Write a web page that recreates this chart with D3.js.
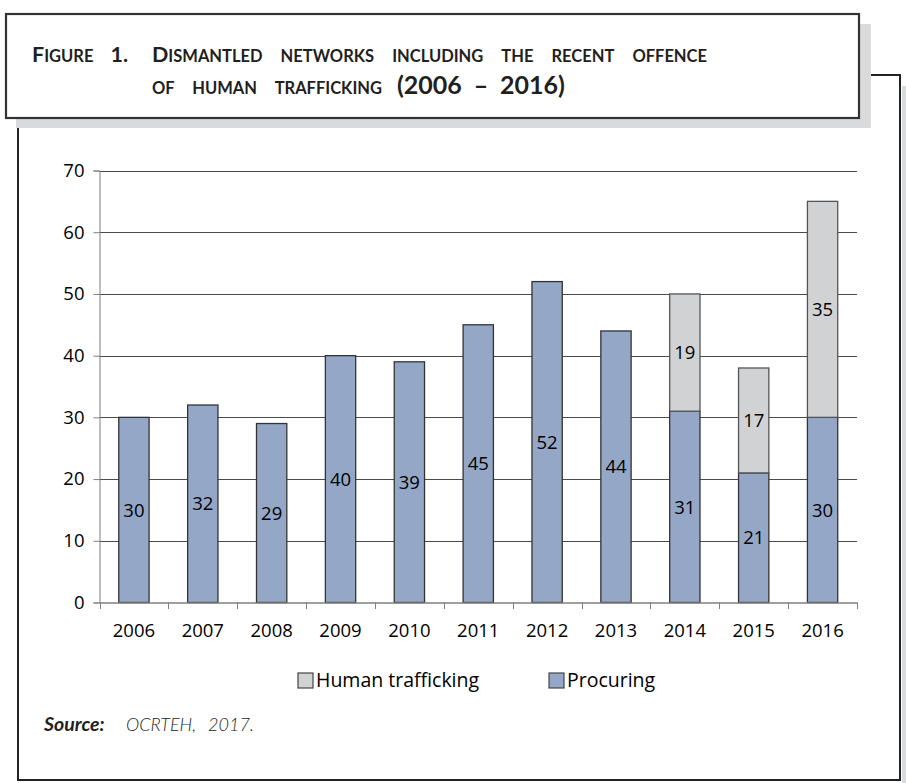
<!DOCTYPE html>
<html><head><meta charset="utf-8">
<script src="https://cdn.jsdelivr.net/npm/d3@7"></script>
<style>body{margin:0;background:#fff}svg{display:block}</style>
</head><body>
<script>
const years = ["2006","2007","2008","2009","2010","2011","2012","2013","2014","2015","2016"];
const procuring = [30,32,29,40,39,45,52,44,31,21,30];
const humanTrafficking = [0,0,0,0,0,0,0,0,19,17,35];
const yTicks = [0,10,20,30,40,50,60,70];
const seriesNames = ["Human trafficking","Procuring"];

const W=906,H=783;
const svg=d3.select("body").append("svg").attr("width",W).attr("height",H);

// main frame shadow & frame
svg.append("rect").attr("x",902).attr("y",86).attr("width",10).attr("height",H).attr("fill","#d9dadc");
svg.append("rect").attr("x",18).attr("y",75).attr("width",882).attr("height",705)
  .attr("fill","#fff").attr("stroke","#222").attr("stroke-width",2);

// title box shadow and box
svg.append("rect").attr("x",16).attr("y",24).attr("width",855).attr("height",104).attr("fill","#d9dadc");
svg.append("rect").attr("x",6).attr("y",14).attr("width",853).attr("height",104)
  .attr("fill","#fff").attr("stroke","#333").attr("stroke-width",2.2);

const tf="Lato, 'DejaVu Sans', sans-serif";
function fitWords(t,target){
  const n=(t.text().match(/ /g)||[]).length;
  const w=t.node().getComputedTextLength();
  if(n>0) t.attr("word-spacing",Math.max(1,(target-w)/n));
}
const bigS=21.5, smallS=16.5;
function smallCaps(xp,yp,str,target){
  const t=svg.append("text").attr("x",xp).attr("y",yp).attr("font-family",tf).attr("font-weight",700)
    .attr("fill","#231f20").attr("font-size",bigS);
  let runs=[];
  for(const ch of str){
    const small=(ch!==ch.toUpperCase());
    const sz=small?smallS:bigS;
    if(runs.length&&runs[runs.length-1].sz===sz) runs[runs.length-1].s+=ch.toUpperCase();
    else runs.push({sz:sz,s:ch.toUpperCase()});
  }
  runs.forEach(r=>t.append("tspan").attr("font-size",r.sz).text(r.s));
  fitWords(t,target);
  return t;
}
smallCaps(32,62,"Figure 1.",96);
smallCaps(152,62,"Dismantled networks including the recent offence",555);
smallCaps(152,94,"of human trafficking",230);
const t3=svg.append("text").attr("x",397).attr("y",94).attr("font-family",tf).attr("font-weight",700)
  .attr("font-size",25).attr("fill","#231f20").text("(2006 \u2013 2016)");
fitWords(t3,168);

// chart
const x=d3.scaleBand().domain(years).range([99.5,857]).paddingInner(0.56).paddingOuter(0.28);
const xOuter=d3.scaleBand().domain(years).range([99.5,857]);
const y=d3.scaleLinear().domain([0,70]).range([602.5,170.5]);
const af="'Open Sans', 'Noto Sans', sans-serif";
const aSize=18.5;

// gridlines
svg.append("g").selectAll("line").data(yTicks.filter(d=>d>0)).join("line")
  .attr("x1",99.5).attr("x2",857).attr("y1",d=>Math.round(y(d))+0.5).attr("y2",d=>Math.round(y(d))+0.5)
  .attr("stroke","#4a4a4a").attr("stroke-width",1);

// y axis
const yAxis=svg.append("g").attr("transform","translate(99.5,0)")
  .call(d3.axisLeft(y).tickValues(yTicks).tickSize(6).tickPadding(9));
yAxis.select(".domain").attr("stroke","#7f7f7f");
yAxis.selectAll(".tick line").attr("stroke","#7f7f7f");
yAxis.selectAll("text").attr("font-family",af).attr("font-size",aSize).attr("fill","#000");

// bars
const stackData=years.map((yr,i)=>({year:yr,p:procuring[i],h:humanTrafficking[i]}));
const gB=svg.append("g");
gB.selectAll("rect.p").data(stackData).join("rect").attr("class","p")
  .attr("x",d=>x(d.year)).attr("width",x.bandwidth())
  .attr("y",d=>y(d.p)).attr("height",d=>y(0)-y(d.p))
  .attr("fill","#94a7c7").attr("stroke","#333").attr("stroke-width",1.3);
gB.selectAll("rect.h").data(stackData.filter(d=>d.h>0)).join("rect").attr("class","h")
  .attr("x",d=>x(d.year)).attr("width",x.bandwidth())
  .attr("y",d=>y(d.p+d.h)).attr("height",d=>y(d.p)-y(d.p+d.h))
  .attr("fill","#d1d2d4").attr("stroke","#555").attr("stroke-width",1.3);

// labels
const lab=svg.append("g").attr("font-family",af).attr("font-size",aSize).attr("fill","#000").attr("text-anchor","middle");
lab.selectAll("text.p").data(stackData).join("text")
  .attr("x",d=>x(d.year)+x.bandwidth()/2).attr("y",d=>y(d.p/2)).attr("dy","0.36em").text(d=>d.p);
lab.selectAll("text.h").data(stackData.filter(d=>d.h>0)).join("text")
  .attr("x",d=>x(d.year)+x.bandwidth()/2).attr("y",d=>y(d.p+d.h/2)).attr("dy","0.36em").text(d=>d.h);

// x axis
const xAxis=svg.append("g").attr("transform","translate(0,602.5)")
  .call(d3.axisBottom(xOuter).tickSize(0).tickPadding(21));
xAxis.select(".domain").attr("stroke","#7f7f7f").attr("stroke-width",1.3);
xAxis.selectAll("text").attr("font-family",af).attr("font-size",aSize).attr("fill","#000");
svg.append("g").selectAll("line").data(years.concat(["end"])).join("line")
  .attr("x1",(d,i)=>Math.round(99.5+i*xOuter.step())+0.5).attr("x2",(d,i)=>Math.round(99.5+i*xOuter.step())+0.5)
  .attr("y1",602.5).attr("y2",609).attr("stroke","#7f7f7f");

// legend
const lg=svg.append("g").attr("font-family",af).attr("font-size",19.5);
const legX=[298,549], legFill=["#d1d2d4","#94a7c7"];
seriesNames.forEach((n,i)=>{
  lg.append("rect").attr("x",legX[i]).attr("y",673).attr("width",15).attr("height",15)
    .attr("fill",legFill[i]).attr("stroke","#444").attr("stroke-width",1.2);
  lg.append("text").attr("x",legX[i]+18).attr("y",687).text(n);
});

// source
svg.append("text").attr("x",44).attr("y",731).attr("font-family",tf).attr("font-size",19.5)
  .attr("font-style","italic").attr("font-weight",700).attr("fill","#231f20").text("Source:");
const s2=svg.append("text").attr("x",126).attr("y",731).attr("font-family",tf).attr("font-size",18)
  .attr("font-style","italic").attr("font-weight",300).attr("fill","#231f20").text("OCRTEH, 2017.");
fitWords(s2,128);
</script>
</body></html>
